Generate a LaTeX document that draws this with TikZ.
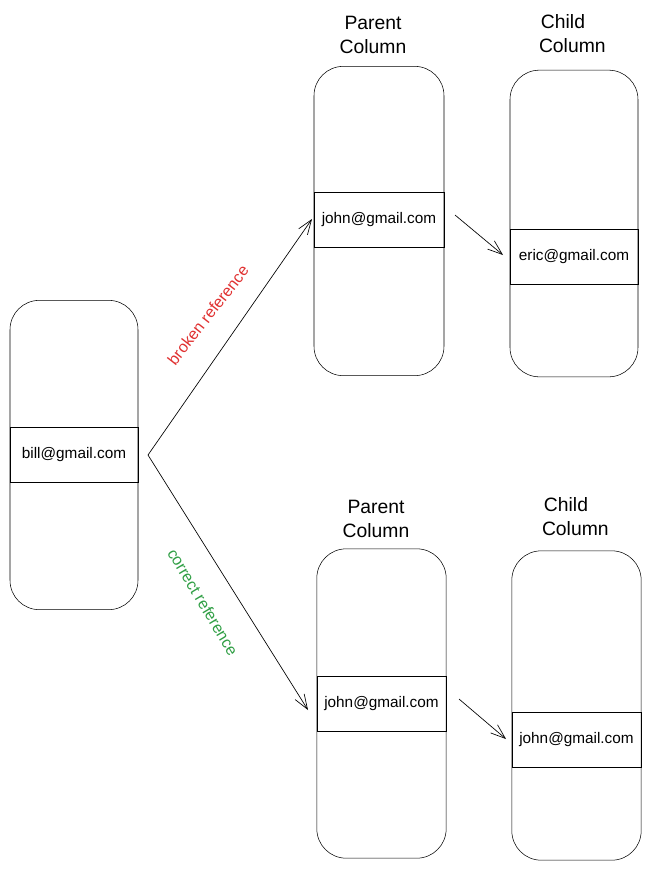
\documentclass[tikz,border=0pt]{standalone}
\usepackage{fontspec}
\setmainfont{Liberation Sans}
\usetikzlibrary{arrows.meta}

\begin{document}
\begin{tikzpicture}[x=0.75pt,y=-0.75pt]
      \tikzstyle{every node}+=[inner sep=0pt]
      \tikzstyle{column}=[draw, rounded corners=22pt, minimum width=96pt, minimum height=232pt]
      \tikzstyle{cell}=[draw, minimum width=96pt, minimum height=41pt, font=\fontsize{11.5}{13}\selectfont]
      \tikzstyle{header}=[align=center, font=\fontsize{14.5}{18}\selectfont]
      \tikzstyle{link}=[-{Straight Barb[length=11pt,width=8pt]}, line width=0.5pt]
      \tikzstyle{note}=[font=\fontsize{12}{14}\selectfont]
      \definecolor{brokenred}{HTML}{E03131}
      \definecolor{correctgreen}{HTML}{2F9E44}
      \useasboundingbox (0,0) rectangle (651,869);
      % left column
      \node [column] (bill) at (74,455) {};
      \node [cell] (billcell) at (74,454.5) {bill@gmail.com};
      % top: broken reference
      \node [column, minimum width=97.5pt] (par1) at (379,221) {};
      \node [cell, minimum width=97.5pt] (par1cell) at (379,219.5) {john@gmail.com};
      \node [header] (par1head) at (373,35) {Parent\\Column};
      \node [column, minimum height=230pt] (chi1) at (574,223.5) {};
      \node [cell] (chi1cell) at (574,256.5) {eric@gmail.com};
      \node [header] (chi1head) at (563,34) {Child\\\hspace*{14pt}Column};
      % bottom: correct reference
      \node [column, minimum width=97pt] (par2) at (381.5,703.5) {};
      \node [cell, minimum width=97pt] (par2cell) at (381.5,703.5) {john@gmail.com};
      \node [header] (par2head) at (376,519) {Parent\\Column};
      \node [column, minimum width=97pt] (chi2) at (576.5,705.5) {};
      \node [cell, minimum width=97pt] (chi2cell) at (576.5,739.5) {john@gmail.com};
      \node [header] (chi2head) at (566,517) {Child\\\hspace*{14pt}Column};
      % arrows
      \coordinate (fork) at (148,455);
      \coordinate (in1) at (312,219);
      \coordinate (in2) at (308,710);
      \coordinate (out1) at (455,215);
      \coordinate (out2) at (459,699);
      \draw [link] (fork) -- (in1);
      \draw [link] (fork) -- (in2);
      \draw [link] (out1) -- (503,255) coordinate (end1);
      \draw [link] (out2) -- (506,739) coordinate (end2);
      \node [note, brokenred, rotate=52] (broken) at (208,315) {broken reference};
      \node [note, correctgreen, rotate=-59] (correct) at (203,602) {correct reference};
\end{tikzpicture}
\end{document}
